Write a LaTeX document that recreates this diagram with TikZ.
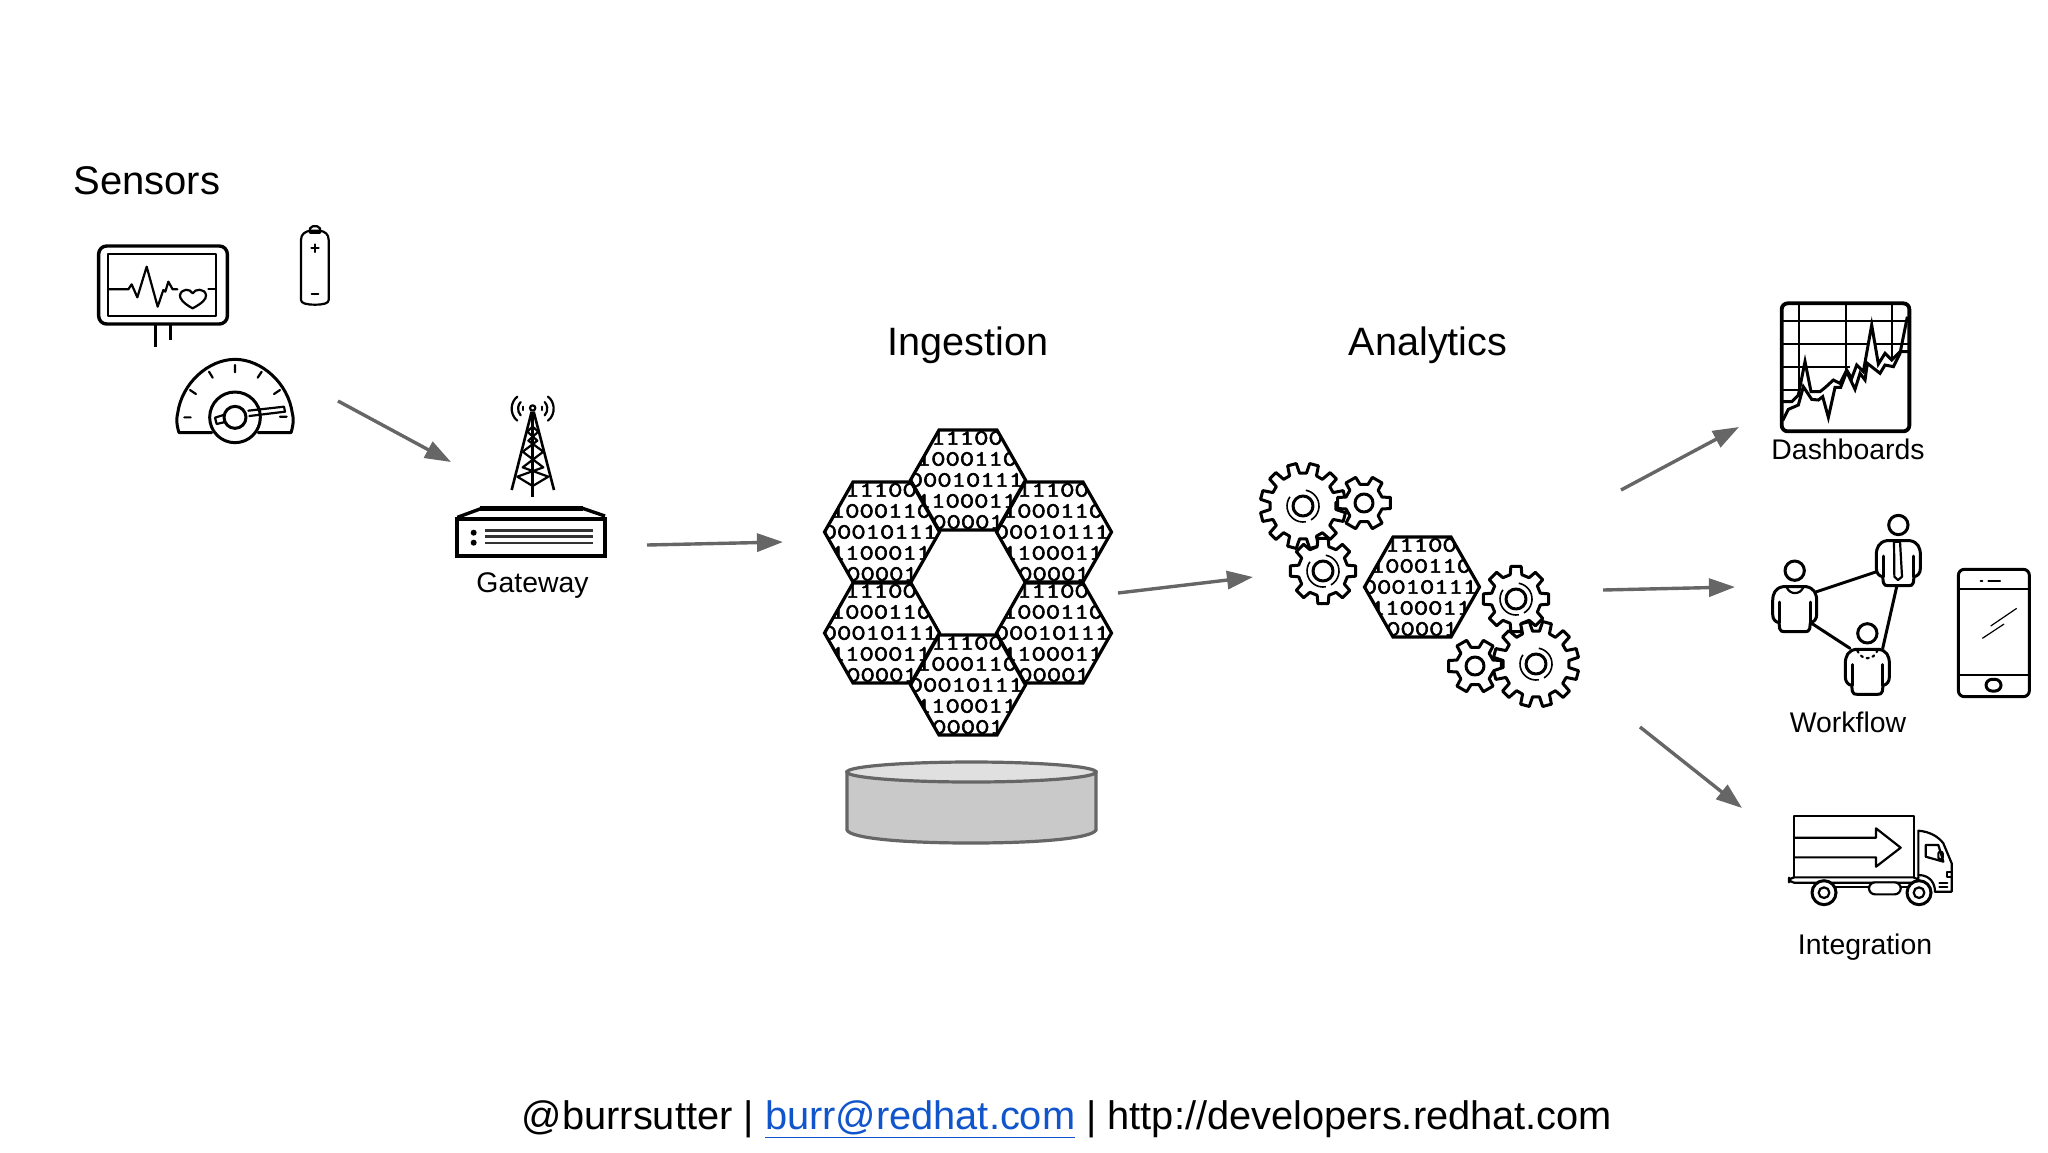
\documentclass[tikz,border=0pt]{standalone}
\usepackage{graphicx}
\usepackage{fontspec}
\setmainfont{Liberation Sans}
\newfontfamily\binfont[FakeBold=2.2]{Latin Modern Mono}
\usetikzlibrary{arrows.meta}
\definecolor{arrowgray}{HTML}{666666}
\definecolor{linkblue}{HTML}{1155CC}
\tikzset{
  zoomat/.style={shift={#1},x=0.16667pt,y=-0.16667pt},
  ico/.style={line width=1.5pt,line join=round,line cap=round,draw=black},
  thin ico/.style={line width=1.1pt,line join=round,line cap=round,draw=black},
  flow/.style={draw=arrowgray,line width=1.7pt,-{Triangle[length=13pt,width=9pt]}},
  title/.style={anchor=base,font=\fontsize{19.8}{22}\selectfont,inner sep=0pt},
  caption/.style={anchor=base,font=\fontsize{14.2}{16}\selectfont,inner sep=0pt},
  binrow/.style={anchor=center,inner sep=0pt,font=\fontsize{11}{12}\binfont\selectfont},
}
% binary hexagon: name, centre x, centre y (reference pixels)
\newcommand{\hexbin}[3]{%
  \begin{scope}[shift={(#2,#3)}]
    \fill[white] (-29,-50) -- (29,-50) -- (57.5,0) -- (29,50) -- (-29,50) -- (-57.5,0) -- cycle;
    \begin{scope}
      \clip (-29,-50) -- (29,-50) -- (57.5,0) -- (29,50) -- (-29,50) -- (-57.5,0) -- cycle;
      \node[binrow] (#1r1) at (-1,-42) {\scalebox{1.24}[1]{11100}};
      \node[binrow] (#1r2) at (-1,-21) {\scalebox{1.24}[1]{1000110}};
      \node[binrow] (#1r3) at (-2,0) {\scalebox{1.24}[1]{00010111}};
      \node[binrow] (#1r4) at (-1,21) {\scalebox{1.24}[1]{1100011}};
      \node[binrow] (#1r5) at (0,42) {\scalebox{1.24}[1]{00001}};
    \end{scope}
    \draw[line width=1.6pt,line join=miter] (-29,-50) -- (29,-50) -- (57.5,0) -- (29,50) -- (-29,50) -- (-57.5,0) -- cycle;
  \end{scope}}
% gear: centre x, y, outer r, root r, teeth, rotation, hub r, spiral (1/0)
\newcommand{\gearshape}[8]{%
  \begin{scope}[shift={(#1,#2)}]
    \pgfmathsetmacro{\gb}{0.30*360/#5}
    \pgfmathsetmacro{\gt}{0.20*360/#5}
    \draw[ico,fill=white] ({#6+360/#5-\gb}:#4)
      \foreach \i [evaluate=\i as \ga using #6+\i*360/#5] in {1,...,#5}
        { -- (\ga-\gb:#4) -- (\ga-\gt:#3) -- (\ga+\gt:#3) -- (\ga+\gb:#4) } -- cycle;
    \draw[ico] (0,0) circle (#7);
    \ifnum#8=1
      \draw[line width=0.8pt] (60:16) arc (60:-80:16);
      \draw[line width=0.8pt] (80:16) arc (80:215:16);
    \fi
  \end{scope}}
% person, in zoom units: centre x, top of body, head centre y
\newcommand{\personshape}[3]{%
  \begin{scope}[shift={(#1,#2)}]
    \draw[ico,fill=white] (0,#3) circle (29);
    \draw[ico,fill=white] (-35,2) .. controls (-58,6) and (-66,22) .. (-66,45)
      -- (-66,85) .. controls (-66,100) and (-58,108) .. (-47,110)
      -- (-45,128) .. controls (-43,136) and (-38,137) .. (-30,137)
      -- (30,137) .. controls (38,137) and (43,136) .. (45,128)
      -- (47,110) .. controls (58,108) and (66,100) .. (66,85)
      -- (66,45) .. controls (66,22) and (58,6) .. (35,2) -- cycle;
    \draw[ico] (-46,48) -- (-46,110);
    \draw[ico] (46,48) -- (46,110);
  \end{scope}}
\begin{document}
\begin{tikzpicture}[x=0.5pt,y=-0.5pt]
\useasboundingbox (0,0) rectangle (2048,1152);
\fill[white] (0,0) rectangle (2048,1152);

% ---- titles and captions
\node[title,anchor=base west] (sensors) at (73,194) {\fontsize{20}{22}\selectfont Sensors};
\node[title] (ingestion) at (968,355) {Ingestion};
\node[title] (analytics) at (1428,355) {Analytics};
\node[caption] (gateway) at (532.5,592) {Gateway};
\node[caption] (dashboards) at (1848,459) {Dashboards};
\node[caption] (workflow) at (1848,732) {Workflow};
\node[caption] (integration) at (1865,954) {Integration};
\node[anchor=base,inner sep=0pt,font=\fontsize{19.9}{24}\selectfont] (footer) at (1067,1129)
  {@burrsutter | \textcolor{linkblue}{\underline{burr@redhat.com}} | http://developers.redhat.com};

% ---- sensors (zoom 1)
\begin{scope}[zoomat={(60,140)}]
  \draw[ico,line width=1.7pt,rounded corners=4pt] (116,318) rectangle (502,552);
  \draw[thin ico] (144,343) rectangle (468,528);
  \draw[ico,line cap=butt] (285,555) -- (285,622);
  \draw[ico,line cap=butt] (331,555) -- (331,600);
  \draw[thin ico] (146,448) -- (205,448) -- (215,433) -- (232,472) -- (260,380) -- (293,500) -- (310,450) -- (316,455) -- (325,425) -- (338,448) -- (352,448);
  \draw[thin ico] (445,448) -- (466,448);
  \draw[thin ico] (398,505) .. controls (370,490) and (358,475) .. (360,465) .. controls (365,445) and (390,445) .. (398,460) .. controls (405,445) and (435,445) .. (438,465) .. controls (440,478) and (425,490) .. (398,505) -- cycle;
  % battery
  \draw[thin ico] (723,300) .. controls (723,282) and (735,275) .. (750,272) -- (780,272) .. controls (795,275) and (806,282) .. (806,300) -- (806,480) .. controls (806,490) and (790,494) .. (765,494) .. controls (740,494) and (723,490) .. (723,480) -- cycle;
  \draw[thin ico] (750,278) -- (750,265) -- (758,259) -- (772,259) -- (780,265) -- (780,278) -- cycle;
  \draw[thin ico] (765,313) -- (765,336) (754,324) -- (776,324);
  \draw[thin ico] (755,462) -- (775,462);
  % gauge
  \draw[ico] (455,878) -- (357,878) .. controls (348,850) and (350,830) .. (353,820) .. controls (365,730) and (445,658) .. (525,658) .. controls (605,658) and (685,730) .. (697,820) .. controls (700,830) and (702,850) .. (693,878) -- (595,878);
  \draw[thin ico] (373,832) -- (392,832) (390,750) -- (408,762) (447,695) -- (458,713) (525,675) -- (525,697) (605,695) -- (593,713) (660,750) -- (642,762) (660,830) -- (680,830);
  \draw[ico] (525,832) circle (76);
  \draw[thin ico] (565,812) -- (672,800) -- (675,815) -- (568,828);
  \draw[thin ico] (490,825) -- (465,833) -- (470,852) -- (495,846);
  \draw[ico] (525,832) circle (33);
\end{scope}

% ---- gateway (zoom 2)
\begin{scope}[zoomat={(430,380)}]
  \draw[line width=1.3pt] (245,330) -- (305,95) (372,330) -- (311,95);
  \draw[line width=1.3pt] (308,95) -- (308,350);
  \draw[thin ico] (292,155) -- (322,182) -- (278,215) -- (340,262) -- (262,290) -- (308,318) -- (355,290) -- (278,262) -- (340,215) -- (295,182) -- (325,155) -- (308,140) -- (292,155);
  \draw[thin ico] (308,84) circle (8);
  \draw[thin ico] (262,122) arc (125:235:40 and 44);
  \draw[thin ico] (354,122) arc (55:-55:40 and 44);
  \draw[thin ico] (272,106) arc (130:230:22 and 26);
  \draw[thin ico] (344,106) arc (50:-50:22 and 26);
  \draw[thin ico] (279,90) -- (279,80) (337,90) -- (337,80);
  \draw[line width=1.7pt,line join=miter] (82,412) -- (158,384) -- (455,384) -- (525,408);
  \fill (150,378) rectangle (460,392);
  \draw[line width=1.9pt] (80,416) rectangle (525,527);
  \draw[line width=1.4pt,draw=black!80] (165,451) -- (488,451) (165,470) -- (488,470) (165,489) -- (488,489);
  \fill (131,458) circle (9) (131,488) circle (9);
\end{scope}

% ---- ingestion
\hexbin{hul}{882}{532}
\hexbin{hur}{1054}{532}
\hexbin{hll}{882}{633}
\hexbin{hlr}{1054}{633}
\hexbin{htop}{968}{480}
\hexbin{hbot}{968}{685}

% ---- storage cylinder
\draw[draw=arrowgray,line width=1.6pt,fill=black!21] (847,772) -- (847,830) .. controls (850,838) and (900,843) .. (971,843) .. controls (1042,843) and (1092,838) .. (1096,830) -- (1096,772) -- cycle;
\draw[draw=arrowgray,line width=1.6pt,fill=black!12] (971.5,772) ellipse (124.5 and 10);

% ---- analytics (zoom 4 centres)
\gearshape{1303}{506}{43}{33}{12}{15}{10}{1}
\gearshape{1364}{503}{27}{19}{6}{0}{9}{0}
\gearshape{1323}{571}{33}{25}{8}{0}{10}{1}
\hexbin{hana}{1422}{587}
\gearshape{1516}{599}{33}{25}{8}{0}{10}{1}
\gearshape{1475}{666}{27}{19}{6}{0}{9}{0}
\gearshape{1536}{664}{43}{33}{12}{15}{10}{1}

% ---- dashboard (zoom 5)
\begin{scope}[zoomat={(1750,290)}]
  \draw[line width=1pt] (148,40) -- (148,320) (287,40) -- (287,260) (426,40) -- (426,210);
  \draw[line width=1pt] (95,93) -- (478,93) (95,162) -- (478,162) (95,232) -- (300,232) (95,300) -- (160,300);
  \fill[white] (97,335) -- (125,335) -- (145,315) -- (165,215) -- (183,305) -- (210,305) -- (225,293) -- (250,270) -- (270,280) -- (290,240) -- (305,265) -- (320,225) -- (340,245) -- (365,105) -- (385,222) -- (405,190) -- (425,210) -- (450,185) -- (475,185) -- (475,420) -- (97,420) -- cycle;
  \draw[line width=1.5pt,line join=miter] (97,335) -- (125,335) -- (145,315) -- (165,215) -- (183,305) -- (210,305) -- (225,293) -- (250,270) -- (270,280) -- (290,240) -- (305,265) -- (320,225) -- (340,245) -- (365,105) -- (385,222) -- (405,190) -- (425,210) -- (450,185) -- (475,185);
  \draw[line width=1.5pt,line join=miter] (98,392) -- (115,358) -- (145,345) -- (160,290) -- (185,328) -- (205,330) -- (218,320) -- (235,382) -- (255,292) -- (272,292) -- (290,245) -- (315,298) -- (330,250) -- (345,270) -- (352,220) -- (390,250) -- (405,225) -- (430,230) -- (450,190) -- (472,80);
  \draw[line width=1.9pt,rounded corners=3pt] (95,40) rectangle (478,424);
\end{scope}

% ---- workflow people and phone (zoom 6)
\begin{scope}[zoomat={(1750,500)}]
  \coordinate (pa) at (200,275); \coordinate (pb) at (380,215);
  \coordinate (pc) at (185,370); \coordinate (pd) at (300,445);
  \coordinate (pe) at (440,260); \coordinate (pf) at (398,445);
  \draw[ico] (pa) -- (pb);
  \draw[ico] (pc) -- (pd);
  \draw[ico] (pe) -- (pf);
  \personshape{445}{120}{-45}
  \personshape{134}{258}{-46}
  \personshape{352}{446}{-46}
  \draw[thin ico] (432,125) -- (433,230) -- (444,240) -- (456,230) -- (450,125) -- cycle;
  \draw[thin ico] (110,262) .. controls (120,285) and (150,285) .. (160,262);
  \draw[thin ico,dotted] (322,452) .. controls (335,482) and (370,482) .. (382,452);
  % phone
  \draw[ico,rounded corners=3pt] (625,208) rectangle (838,590);
  \draw[thin ico] (625,268) -- (838,268) (625,525) -- (838,525);
  \draw[thin ico] (692,242) -- (697,242) (715,242) -- (750,242);
  \draw[ico,rounded corners=3pt] (708,538) rectangle (753,573);
  \draw[line width=0.6pt] (722,378) -- (800,325) (697,415) -- (762,372);
\end{scope}

% ---- truck (zoom 7)
\begin{scope}[zoomat={(1770,800)}]
  \draw[thin ico] (72,232) -- (72,48) -- (432,48) -- (432,232);
  \draw[thin ico] (75,113) -- (318,113) -- (318,85) -- (392,143) -- (318,200) -- (318,172) -- (75,172);
  \draw[thin ico,rounded corners=2.5pt] (57,232) -- (445,232) -- (445,248) -- (57,248) -- cycle;
  \draw[thin ico] (445,232) -- (445,92) .. controls (480,95) and (505,110) .. (520,130) -- (545,190) -- (545,275) -- (495,275);
  \draw[thin ico] (445,225) .. controls (480,225) and (495,250) .. (495,275);
  \draw[thin ico] (467,135) -- (505,135) -- (520,185) -- (467,170) -- cycle;
  \draw[thin ico,rounded corners=1pt] (505,155) rectangle (518,178);
  \draw[thin ico] (545,215) -- (530,215) -- (530,232) -- (545,232);
  \draw[thin ico] (508,248) -- (532,248) (508,262) -- (532,262);
  \draw[thin ico] (197,262) -- (297,262) (392,262) -- (410,262);
  \draw[thin ico,rounded corners=3pt,fill=white] (297,247) rectangle (392,283);
  \draw[ico,fill=white] (162,278) circle (36);
  \draw[thin ico] (162,278) circle (16);
  \draw[ico,fill=white] (447,278) circle (36);
  \draw[thin ico] (447,278) circle (16);
\end{scope}

% ---- flow arrows
\coordinate (a1s) at (338,401); \coordinate (a1e) at (451,462);
\coordinate (a2s) at (647,545); \coordinate (a2e) at (783,542);
\coordinate (a3s) at (1118,593); \coordinate (a3e) at (1253,577);
\coordinate (a4s) at (1621,490); \coordinate (a4e) at (1739,427);
\coordinate (a5s) at (1603,590); \coordinate (a5e) at (1735,587);
\coordinate (a6s) at (1640,727); \coordinate (a6e) at (1742,808);
\draw[flow] (a1s) -- (a1e);
\draw[flow] (a2s) -- (a2e);
\draw[flow] (a3s) -- (a3e);
\draw[flow] (a4s) -- (a4e);
\draw[flow] (a5s) -- (a5e);
\draw[flow] (a6s) -- (a6e);
\end{tikzpicture}
\end{document}
